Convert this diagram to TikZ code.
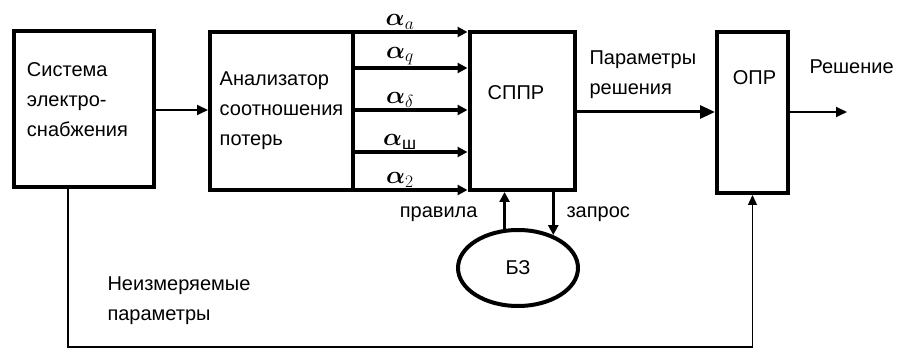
\RequirePackage{fix-cm}
\documentclass[tikz,border=0pt]{standalone}
\usepackage{amsmath}
\usepackage{fontspec}
\setmainfont{Liberation Sans}
\usetikzlibrary{arrows.meta,positioning,shapes.geometric}

\begin{document}
\begin{tikzpicture}[
      x=1pt, y=-1pt,
      block/.style={rectangle, draw, line width=4pt, inner sep=0pt},
      flow/.style={line width=2pt, -{Triangle[length=11pt, width=10pt]}},
      bus/.style={line width=3.5pt, -{Triangle[length=10pt, width=10pt]}},
      every node/.style={font=\fontsize{20}{30}\selectfont}
    ]
    \useasboundingbox (0,0) rectangle (898,352);
    % blocks of the scheme
    \node[block, minimum width=140pt, minimum height=156pt, text width=114pt, align=left,
      label={[anchor=center, text width=114pt, align=left, yshift=-71pt]north:{Система\\электро-\\снабжения}}] (sys) at (84,109) {};
    \node[block, minimum width=143pt, minimum height=158pt, align=left] (an) at (281.5,111)
      {Анализатор\\соотношения\\потерь};
    \node[block, minimum width=105pt, minimum height=158pt,
      label={[anchor=center, xshift=-6pt, yshift=-63pt]north:СППР}] (sppr) at (522,111) {};
    \node[block, minimum width=71pt, minimum height=161pt,
      label={[anchor=center, xshift=2pt, yshift=-48pt]north:ОПР}] (opr) at (752.5,112.5) {};
    \node[ellipse, draw, line width=4pt, minimum width=120pt, minimum height=76pt] (bz) at (518,268) {БЗ};
    \coordinate (out) at (847,112);
    \coordinate (low) at (0,347);
    % connectors
    \draw[flow] (sys.east |- 0,110) -- (an.west |- 0,110);
    \foreach \y/\sub in {32/a, 68/q, 110/\delta, 152/\text{ш}, 190/2}
      \draw[bus] (an.east |- 0,\y) -- node[above, pos=0.4, inner sep=1pt, font=\fontsize{25}{30}\selectfont]{$\boldsymbol{\alpha}_{\sub}$} (sppr.west |- 0,\y);
    \draw[line width=3pt, -{Triangle[length=15pt, width=13pt]}] (sppr.east |- 0,112) -- (opr.west |- 0,112);
    \draw[flow] (opr.east |- 0,112) -- (out);
    \draw[bus] (bz.109) -- (bz.109 |- sppr.south);
    \draw[bus] (sppr.south -| bz.43) -- (bz.43);
    \draw[line width=1.3pt, -{Triangle[length=10pt, width=9pt]}]
      ([xshift=-16pt]sys.south) |- (low -| opr.south) -- (opr.south);
    % texts at the connectors
    \node[anchor=west, align=left] (par) at (586,75) {Параметры\\решения};
    \node[anchor=west] (res) at (806,67) {Решение};
    \node[anchor=east] (rules) at (481,214) {правила};
    \node[anchor=west] (query) at (563,214) {запрос};
    \node[anchor=west, align=left] (unm) at (104,301) {Неизмеряемые\\параметры};
  \end{tikzpicture}
\end{document}
